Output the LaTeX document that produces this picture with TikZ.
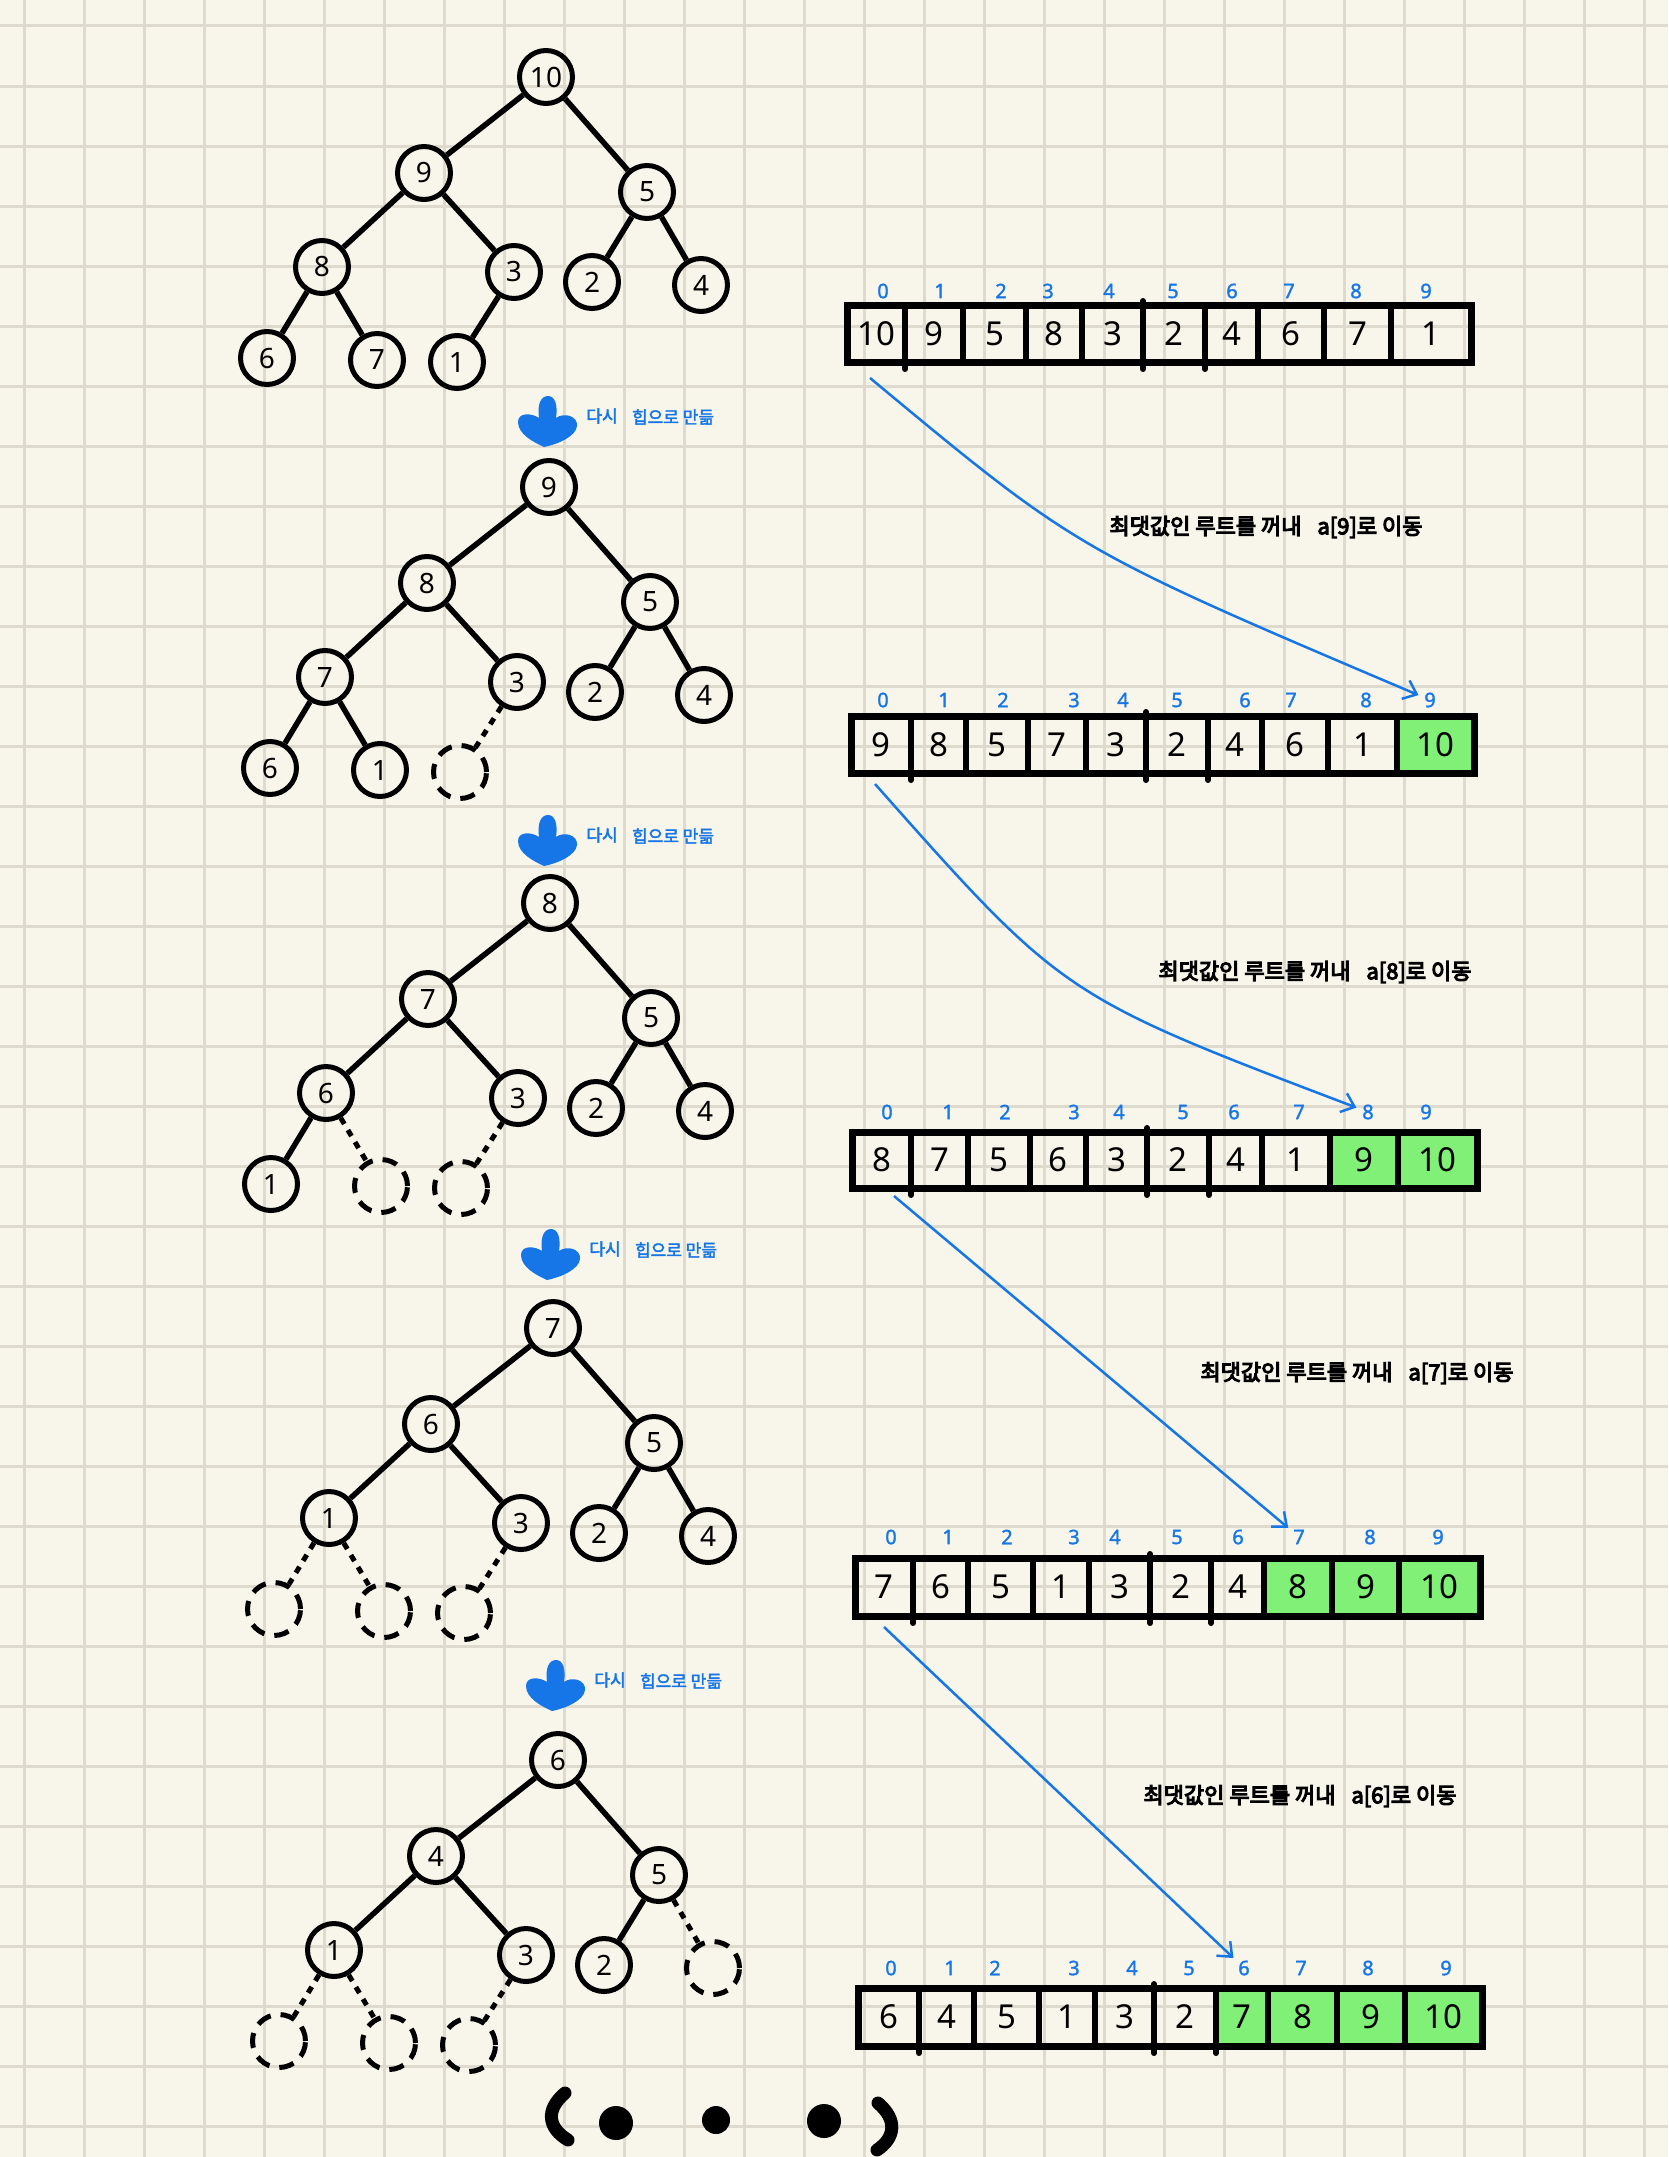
\documentclass[tikz,border=0pt]{standalone}
\usepackage{fontspec}
\setmainfont{Noto Sans}
\newfontfamily\kr{Noto Sans CJK KR}
\newfontfamily\krb{Noto Sans CJK KR}[FakeBold=5]
\newfontfamily\krm{Noto Sans CJK KR}[FakeBold=2.5]
\newfontfamily\idxf{Noto Sans}[FakeBold=1.5]
\usetikzlibrary{arrows.meta}
\definecolor{paper}{RGB}{248,246,235}
\definecolor{gridc}{RGB}{222,219,206}
\definecolor{hblue}{RGB}{22,118,232}
\definecolor{hgreen}{RGB}{128,240,118}

\tikzset{
  gridline/.style={draw=gridc, line width=3pt},
  heapnode/.style={circle, draw=black, line width=5pt, minimum size=53pt, inner sep=0pt,
    font=\fontsize{28}{30}\selectfont},
  emptynode/.style={circle, draw=black, line width=5pt, minimum size=53pt, inner sep=0pt,
    dash pattern=on 15pt off 10pt},
  treeedge/.style={line width=5.5pt},
  dotedge/.style={line width=5pt, dash pattern=on 7pt off 7pt},
  arrbox/.style={line width=7pt},
  divider/.style={line width=6pt, line cap=round},
  cellnum/.style={font=\fontsize{33}{36}\selectfont, inner sep=0pt},
  idx/.style={text=hblue, font=\idxf\fontsize{20}{22}\selectfont, inner sep=1pt},
  conn/.style={draw=hblue, line width=2.5pt, shorten >=5pt,
    -{Straight Barb[length=12pt,width=20pt]}},
  krlabel/.style={font=\krb\fontsize{22}{24}\selectfont, inner sep=0pt},
  bluelabel/.style={text=hblue, font=\krm\fontsize{17}{19}\selectfont, inner sep=0pt},
}

% heap tree: #1 prefix, #2 x, #3 y, #4 values (0 = empty slot)
\newcommand\htree[4]{%
  \foreach \k/\dx/\dy in {0/0/0,1/-122/96,2/101/115,3/-224/190,4/-32/195,5/46/205,
      6/155/208,7/-279/281,8/-169/283,9/-89/285}{
    \pgfmathtruncatemacro\val{{#4}[\k]}
    \ifnum\val=0
      \node[emptynode] (#1\k) at (#2+\dx,#3+\dy) {};
    \else
      \node[heapnode] (#1\k) at (#2+\dx,#3+\dy) {\val};
    \fi
  }
  \foreach \p/\c in {0/1,0/2,1/3,1/4,2/5,2/6,3/7,3/8,4/9}{
    \pgfmathtruncatemacro\val{{#4}[\c]}
    \ifnum\val=0
      \draw[dotedge] (#1\p) -- (#1\c);
    \else
      \draw[treeedge] (#1\p) -- (#1\c);
    \fi
  }
}

% array: #1 prefix, #2 top, #3 bottom, #4 boundaries (11), #5 values, #6 first green,
% #7 index x list, #8 index y
\newcommand\harray[8]{%
  \foreach \k in {0,...,9}{
    \pgfmathsetmacro\bl{{#4}[\k]}
    \pgfmathsetmacro\br{{#4}[\k+1]}
    \pgfmathtruncatemacro\val{{#5}[\k]}
    \pgfmathsetmacro\ix{{#7}[\k]}
    \ifnum\k<#6\relax\else \fill[hgreen] (\bl,#2) rectangle (\br,#3);\fi
    \node[cellnum] (#1c\k) at ({(\bl+\br)/2},{(#2+#3)/2}) {\val};
    \node[idx] (#1i\k) at (\ix,#8) {\k};
  }
  \foreach \k in {1,...,9}{
    \pgfmathsetmacro\bx{{#4}[\k]}
    \draw[divider] (\bx,#2) -- (\bx,#3);
  }
  \foreach \k in {1,5,6}{
    \pgfmathsetmacro\bx{{#4}[\k]}
    \draw[divider] (\bx,#3) -- (\bx,#3+7);
  }
  \pgfmathsetmacro\bx{{#4}[5]}
  \draw[divider] (\bx,#2) -- (\bx,#2-4);
  \pgfmathsetmacro\xl{{#4}[0]}
  \pgfmathsetmacro\xr{{#4}[10]}
  \draw[arrbox] (\xl,#2) rectangle (\xr,#3);
}

% blue blob arrow with label: #1 name, #2 x, #3 y
\newcommand\heapagain[3]{%
  \begin{scope}[shift={(#2,#3)}]
    \fill[hblue] (-8,-4) .. controls (-10,-18) and (-6,-26) .. (1,-26)
      .. controls (8,-26) and (11,-17) .. (9,-4)
      .. controls (17,-10) and (31,-6) .. (30,4)
      .. controls (29,14) and (12,22) .. (-3,25)
      .. controls (-14,20) and (-29,12) .. (-29,0)
      .. controls (-29,-10) and (-15,-9) .. (-8,-4) -- cycle;
    \node[bluelabel] (#1a) at (55,-6) {다시};
    \node[bluelabel] (#1b) at (126,-5) {힙으로 만듦};
  \end{scope}
}

\begin{document}
\begin{tikzpicture}[x=1pt,y=-1pt]
\useasboundingbox (0,0) rectangle (1668,2157);
\fill[paper] (0,0) rectangle (1668,2157);
\foreach \x in {24,84,...,1644} \draw[gridline] (\x,0) -- (\x,2157);
\foreach \y in {26,86,...,2126} \draw[gridline] (0,\y) -- (1668,\y);

% trees
\htree{ta}{546}{77}{10,9,5,8,3,2,4,6,7,1}
\htree{tb}{549}{487}{9,8,5,7,3,2,4,6,1,0}
\htree{tc}{550}{903}{8,7,5,6,3,2,4,1,0,0}
\htree{td}{553}{1328}{7,6,5,1,3,2,4,0,0,0}
\htree{te}{558}{1760}{6,4,5,1,3,2,0,0,0,0}

% heap again marks
\heapagain{ha}{547}{422}
\heapagain{hb}{547}{841}
\heapagain{hc}{550}{1255}
\heapagain{hd}{555}{1686}

% arrays
\harray{a1}{305}{362}{847,905,963,1026,1082,1143,1205,1258,1324,1391,1471}
  {10,9,5,8,3,2,4,6,7,1}{10}{883,940,1001,1048,1109,1173,1232,1289,1356,1426}{291}
\harray{a2}{716}{773}{851,911,966,1028,1086,1146,1208,1262,1328,1397,1474}
  {9,8,5,7,3,2,4,6,1,10}{9}{883,944,1003,1074,1123,1177,1245,1291,1366,1430}{700}
\harray{a3}{1132}{1188}{852,911,968,1030,1086,1147,1209,1262,1330,1398,1477}
  {8,7,5,6,3,2,4,1,9,10}{8}{887,948,1005,1074,1119,1183,1234,1299,1368,1426}{1112}
\harray{a4}{1558}{1616}{855,913,968,1033,1089,1150,1211,1264,1332,1399,1480}
  {7,6,5,1,3,2,4,8,9,10}{7}{891,948,1007,1074,1115,1177,1238,1299,1370,1438}{1537}
\harray{a5}{1988}{2046}{858,919,974,1039,1095,1154,1216,1268,1337,1405,1482}
  {6,4,5,1,3,2,7,8,9,10}{6}{891,950,995,1074,1132,1189,1244,1301,1368,1446}{1968}

% connectors
\coordinate (s1) at (870,378);
\coordinate (s2) at (875,784);
\coordinate (s3) at (894,1196);
\coordinate (s4) at (884,1627);
\draw[conn] (s1) .. controls (1077,550) .. (a2i9);
\draw[conn] (s2) .. controls (1063,996) .. (a3i8);
\draw[conn] (s3) -- (a4i7);
\draw[conn] (s4) -- (a5i6);

% labels
\node[krlabel] (l1) at (1266,527) {최댓값인 루트를 꺼내\hspace{0.5em} a[9]로 이동};
\node[krlabel] (l2) at (1315,972) {최댓값인 루트를 꺼내\hspace{0.5em} a[8]로 이동};
\node[krlabel] (l3) at (1357,1373) {최댓값인 루트를 꺼내\hspace{0.5em} a[7]로 이동};
\node[krlabel] (l4) at (1300,1796) {최댓값인 루트를 꺼내\hspace{0.5em} a[6]로 이동};

% ( . . . )
\draw[line width=13pt, line cap=round] (565,2093) .. controls (545,2110) and (548,2128) .. (568,2140);
\draw[line width=13pt, line cap=round] (878,2103) .. controls (898,2120) and (895,2138) .. (877,2150);
\fill (616,2123) circle[radius=17pt];
\fill (716,2120) circle[radius=14pt];
\fill (824,2121) circle[radius=17pt];
\end{tikzpicture}
\end{document}
